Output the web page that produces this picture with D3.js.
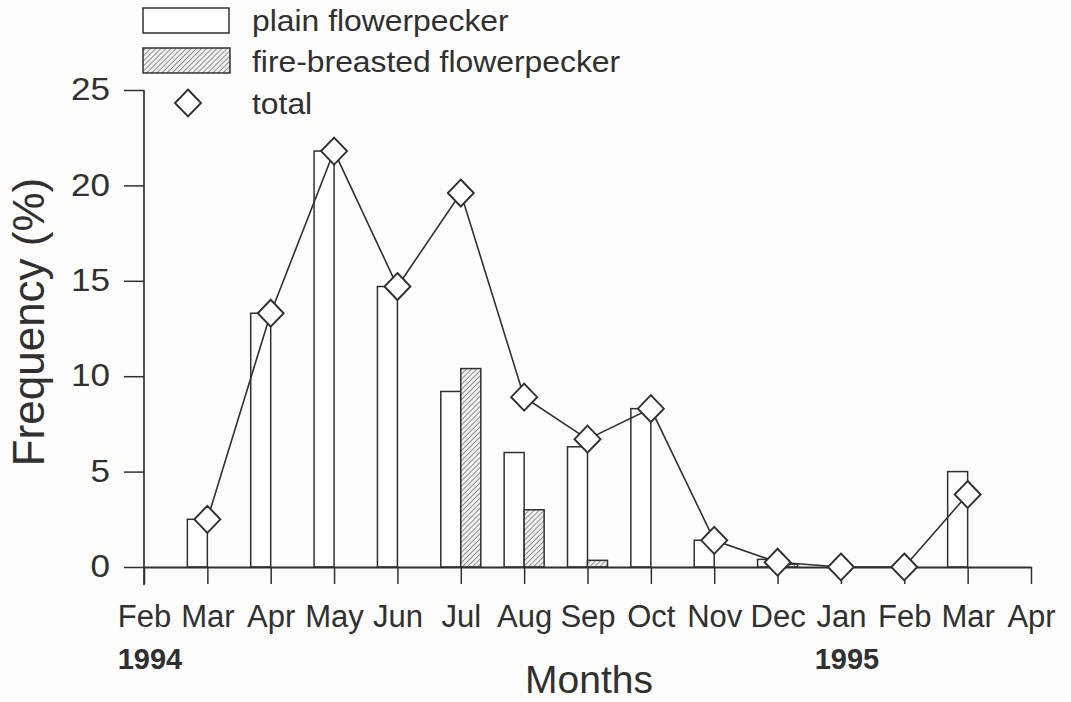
<!DOCTYPE html>
<html>
<head>
<meta charset="utf-8">
<script src="https://cdn.jsdelivr.net/npm/d3@7/dist/d3.min.js"></script>
<style>
  html, body { margin: 0; padding: 0; background: #fdfdfc; }
  svg { display: block; }
  text { font-family: "Liberation Sans", Arial, sans-serif; fill: #303030; }
</style>
</head>
<body>
<script>
// Month keys along the x axis (Feb 1994 .. Apr 1995) and their tick labels
const months = ["1994-02","1994-03","1994-04","1994-05","1994-06","1994-07","1994-08",
                "1994-09","1994-10","1994-11","1994-12","1995-01","1995-02","1995-03","1995-04"];
const monthLabels = ["Feb","Mar","Apr","May","Jun","Jul","Aug","Sep","Oct","Nov","Dec","Jan","Feb","Mar","Apr"];
const yearLabels = [{month: "1994-02", label: "1994"}, {month: "1995-01", label: "1995"}];

// Sampled months and frequencies (%)
const sampleMonths = ["1994-03","1994-04","1994-05","1994-06","1994-07","1994-08","1994-09",
                      "1994-10","1994-11","1994-12","1995-01","1995-02","1995-03"];
const plainFlowerpecker = [2.5, 13.3, 21.8, 14.7, 9.2, 6.0, 6.3, 8.3, 1.4, 0.4, 0, 0, 5.0];
const fireBreasted      = [0, 0, 0, 0, 10.4, 3.0, 0.35, 0, 0, 0.15, 0, 0, 0];
const total             = [2.5, 13.3, 21.8, 14.7, 19.6, 8.9, 6.7, 8.3, 1.4, 0.25, 0, 0, 3.8];

const yTicks = [0, 5, 10, 15, 20, 25];

const W = 1071, H = 702;
const ink = "#303030";

const svg = d3.select("body").append("svg").attr("width", W).attr("height", H);

const defs = svg.append("defs");
const hatch = defs.append("pattern")
  .attr("id", "hatch").attr("patternUnits", "userSpaceOnUse")
  .attr("width", 3.6).attr("height", 3.6)
  .attr("patternTransform", "rotate(45)");
hatch.append("rect").attr("width", 3.6).attr("height", 3.6).attr("fill", "#f0f0f0");
hatch.append("line").attr("x1", 0).attr("y1", 0).attr("x2", 0).attr("y2", 3.6)
  .attr("stroke", "#444").attr("stroke-width", 1.1);

const x = d3.scalePoint().domain(months).range([144, 1031]);
const y = d3.scaleLinear().domain([0, 25]).range([567, 90]);
const barW = 20;

// bars: plain to the left of the month tick, fire-breasted to the right
const plot = svg.append("g");
plot.selectAll("rect.plain")
  .data(sampleMonths.map((m, i) => ({m, v: plainFlowerpecker[i]})).filter(d => d.v > 0))
  .join("rect").attr("class", "plain")
  .attr("x", d => x(d.m) - barW).attr("width", barW)
  .attr("y", d => y(d.v)).attr("height", d => y(0) - y(d.v))
  .attr("fill", "#fefefe").attr("stroke", ink).attr("stroke-width", 1.5);

plot.selectAll("rect.fire")
  .data(sampleMonths.map((m, i) => ({m, v: fireBreasted[i]})).filter(d => d.v > 0))
  .join("rect").attr("class", "fire")
  .attr("x", d => x(d.m)).attr("width", barW)
  .attr("y", d => y(d.v)).attr("height", d => y(0) - y(d.v))
  .attr("fill", "url(#hatch)").attr("stroke", ink).attr("stroke-width", 1.5);

// y axis
const yAxis = svg.append("g").attr("transform", `translate(${x(months[0])},0)`)
  .call(d3.axisLeft(y).tickValues(yTicks).tickSize(20).tickSizeOuter(0).tickPadding(14));
yAxis.select(".domain").remove();
yAxis.append("line").attr("x1", 0).attr("x2", 0).attr("y1", y(25)).attr("y2", y(0) + 18)
  .attr("stroke", ink).attr("stroke-width", 1.7);
yAxis.selectAll(".tick line").attr("stroke", ink).attr("stroke-width", 1.5);
yAxis.selectAll(".tick text").attr("font-size", 30.5).attr("fill", ink)
  .attr("font-family", "'Liberation Sans', Arial, sans-serif")
  .attr("transform", "scale(1.15,1)").attr("x", -34 / 1.15);

// x axis
const xAxis = svg.append("g").attr("transform", `translate(0,${y(0)})`)
  .call(d3.axisBottom(x).tickSize(17).tickSizeOuter(0).tickPadding(21)
        .tickFormat((d, i) => monthLabels[i]));
xAxis.select(".domain").attr("stroke", ink).attr("stroke-width", 2);
xAxis.selectAll(".tick line").attr("stroke", ink).attr("stroke-width", 1.5);
xAxis.selectAll(".tick text").attr("font-size", 31).attr("fill", ink)
  .attr("font-family", "'Liberation Sans', Arial, sans-serif");

svg.selectAll("text.year").data(yearLabels).join("text").attr("class", "year")
  .attr("x", d => x(d.month) + 6).attr("y", 669)
  .attr("text-anchor", "middle").attr("font-size", 29).attr("font-weight", "bold")
  .text(d => d.label);

// total line and diamond markers
const pts = sampleMonths.map((m, i) => ({m, v: total[i]}));
svg.append("path").datum(pts)
  .attr("d", d3.line().x(d => x(d.m)).y(d => y(d.v)))
  .attr("fill", "none").attr("stroke", ink).attr("stroke-width", 1.6);

const diamond = "M0,-13.5L13,0L0,13.5L-13,0Z";
svg.selectAll("path.total").data(pts).join("path").attr("class", "total")
  .attr("transform", d => `translate(${x(d.m)},${y(d.v)})`)
  .attr("d", diamond).attr("fill", "#fefefe").attr("stroke", ink).attr("stroke-width", 1.9);

// axis titles
svg.append("text").attr("transform", "translate(44,322) rotate(-90)")
  .attr("text-anchor", "middle").attr("font-size", 44).text("Frequency (%)");
svg.append("text").attr("x", 589).attr("y", 693)
  .attr("text-anchor", "middle").attr("font-size", 39).text("Months");

// legend
const legend = svg.append("g");
legend.append("rect").attr("x", 143).attr("y", 8).attr("width", 86).attr("height", 25)
  .attr("fill", "#fefefe").attr("stroke", ink).attr("stroke-width", 1.5);
legend.append("rect").attr("x", 143).attr("y", 48).attr("width", 87).attr("height", 25)
  .attr("fill", "url(#hatch)").attr("stroke", ink).attr("stroke-width", 1.5);
legend.append("path").attr("transform", "translate(188,103)").attr("d", diamond)
  .attr("fill", "#fefefe").attr("stroke", ink).attr("stroke-width", 1.9);
const legendLabels = ["plain flowerpecker", "fire-breasted flowerpecker", "total"];
legend.selectAll("text").data(legendLabels).join("text")
  .attr("transform", (d, i) => `translate(252,${[31, 72, 114][i]}) scale(1.08,1)`)
  .attr("font-size", 29.5).text(d => d);
</script>
</body>
</html>
